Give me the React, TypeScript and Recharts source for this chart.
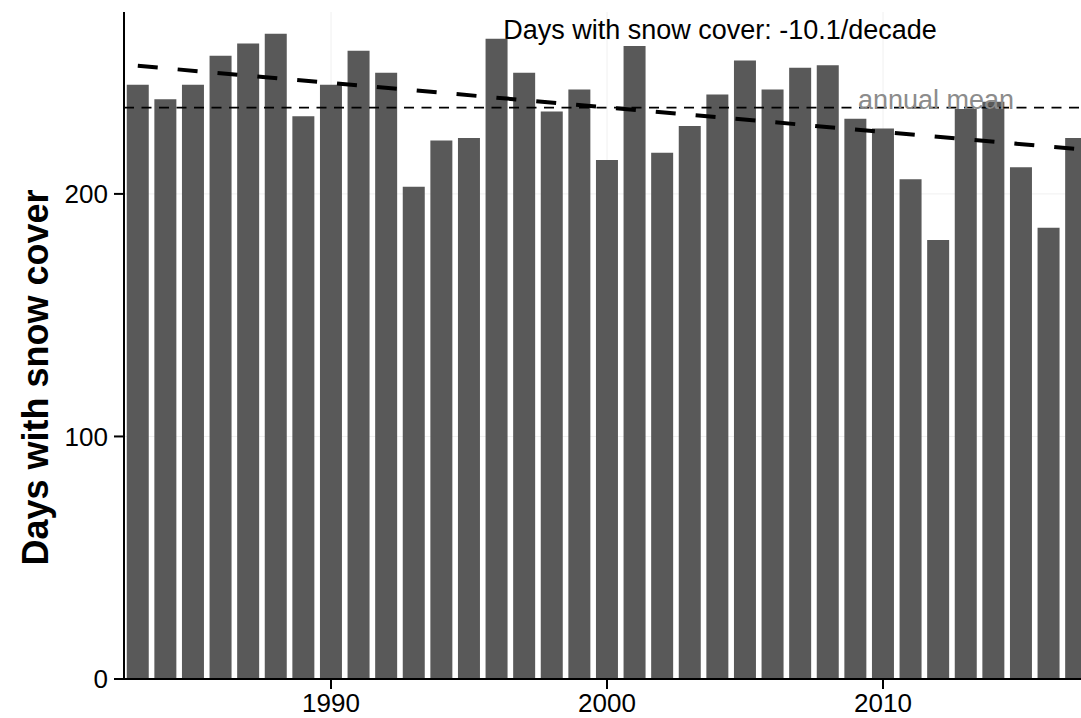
import {
  ComposedChart,
  Bar,
  Line,
  XAxis,
  YAxis,
  CartesianGrid,
  ReferenceLine,
} from 'recharts';

const years = [
  '1983', '1984', '1985', '1986', '1987', '1988', '1989', '1990', '1991', '1992',
  '1993', '1994', '1995', '1996', '1997', '1998', '1999', '2000', '2001', '2002',
  '2003', '2004', '2005', '2006', '2007', '2008', '2009', '2010', '2011', '2012',
  '2013', '2014', '2015', '2016', '2017',
];

const snowDays = [
  245, 239, 245, 257, 262, 266, 232, 245, 259, 250,
  203, 222, 223, 264, 250, 234, 243, 214, 261, 217,
  228, 241, 255, 243, 252, 253, 231, 227, 206, 181,
  235, 238, 211, 186, 223,
];

// trend line read at the first and last year
const trendStart = 252.8;
const trendEnd = 218.5;
const annualMean = 235.6;

const yTicks = [0, 100, 200];
const xTicks = ['1990', '2000', '2010'];

const data = years.map((year, i) => ({
  year,
  days: snowDays[i],
  trend: i === 0 ? trendStart : i === years.length - 1 ? trendEnd : null,
}));

const font = 'Liberation Sans, Arial, sans-serif';

function YLabel({ viewBox }: any) {
  const cx = 35;
  const cy = viewBox.y + viewBox.height / 2 + 32;
  return (
    <text
      x={cx}
      y={cy}
      transform={`rotate(-90 ${cx} ${cy})`}
      textAnchor="middle"
      dominantBaseline="central"
      fontFamily={font}
      fontWeight="bold"
      fontSize={36}
      fill="#000"
    >
      Days with snow cover
    </text>
  );
}

function MeanLabel({ viewBox }: any) {
  return (
    <text
      x={936}
      y={viewBox.y + 1}
      textAnchor="middle"
      fontFamily={font}
      fontSize={27}
      fill="#8c8c8c"
    >
      annual mean
    </text>
  );
}

function SnowChart() {
  return (
    <div
      style={{
        position: 'absolute',
        left: 0,
        top: 0,
        width: 1081,
        height: 718,
        overflow: 'hidden',
        background: '#fff',
      }}
    >
      <ComposedChart
        width={1090}
        height={718}
        data={data}
        margin={{ top: 12, right: 0, bottom: 0, left: 0 }}
        barCategoryGap="10%"
      >
        <CartesianGrid
          stroke="#f0f0f0"
          strokeWidth={1}
          horizontalValues={yTicks}
          verticalValues={xTicks}
        />
        <XAxis
          dataKey="year"
          ticks={xTicks}
          height={39}
          tickSize={10}
          tickMargin={5}
          tick={{ fontSize: 26, fill: '#000', fontFamily: font }}
          axisLine={{ stroke: '#000', strokeWidth: 2 }}
          tickLine={{ stroke: '#000', strokeWidth: 2 }}
        />
        <YAxis
          width={124}
          domain={[0, 275]}
          ticks={yTicks}
          tickSize={10}
          tickMargin={6}
          tick={{ fontSize: 26, fill: '#000', fontFamily: font }}
          axisLine={{ stroke: '#000', strokeWidth: 2 }}
          tickLine={{ stroke: '#000', strokeWidth: 2 }}
          label={<YLabel />}
        />
        <Bar dataKey="days" fill="#595959" isAnimationActive={false} />
        <ReferenceLine
          y={annualMean}
          stroke="#000"
          strokeWidth={1.8}
          strokeDasharray="10 7.5"
          label={<MeanLabel />}
        />
        <Line
          dataKey="trend"
          stroke="#000"
          strokeWidth={4}
          strokeDasharray="20 20"
          dot={false}
          connectNulls
          isAnimationActive={false}
        />
        <text
          x={720}
          y={39}
          textAnchor="middle"
          fontFamily={font}
          fontSize={27}
          fill="#000"
        >
          Days with snow cover: -10.1/decade
        </text>
      </ComposedChart>
    </div>
  );
}

export default function App() {
  return <SnowChart />;
}
